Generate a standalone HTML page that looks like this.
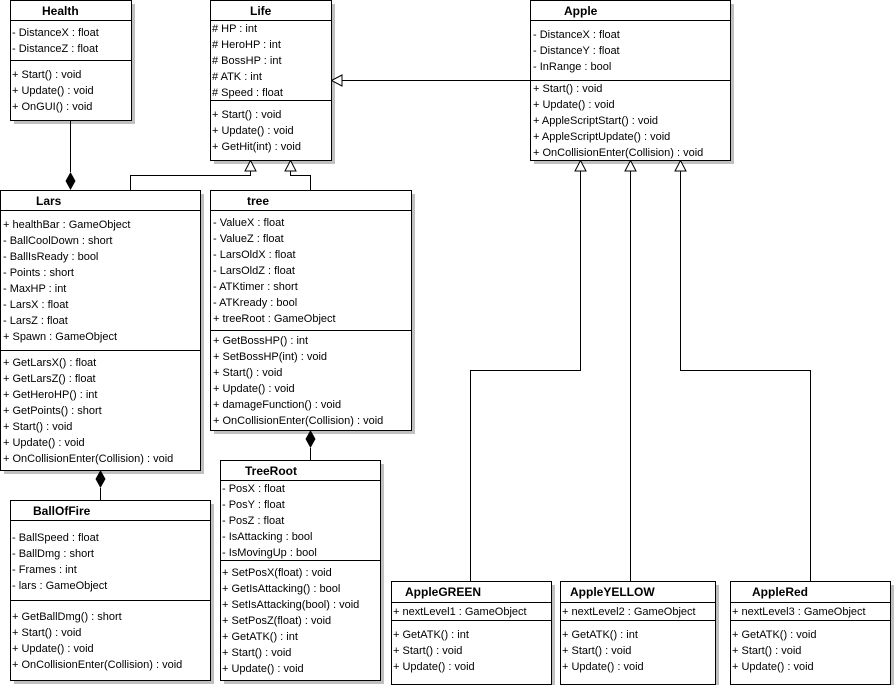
<!DOCTYPE html>
<html><head><meta charset="utf-8"><style>
html,body{margin:0;padding:0;background:#fff;}
svg{display:block;}
text{font-family:"Liberation Sans",Arial,sans-serif;font-size:11px;fill:#000;}
.t{font-weight:bold;font-size:12px;}
.b{fill:#fff;stroke:#000;stroke-width:1;}
.s{fill:#c0c0c0;}
.l{stroke:#000;stroke-width:1;fill:none;}
</style></head><body>
<svg width="895" height="685" viewBox="0 0 895 685" xmlns="http://www.w3.org/2000/svg" shape-rendering="crispEdges">
<!-- shadows -->
<rect class="s" x="14" y="4" width="121" height="120"/>
<rect class="s" x="214" y="4" width="121" height="160"/>
<rect class="s" x="534" y="4" width="200" height="160"/>
<rect class="s" x="4" y="194" width="200" height="280"/>
<rect class="s" x="214" y="194" width="201" height="240"/>
<rect class="s" x="14" y="504" width="200" height="180"/>
<rect class="s" x="224" y="464" width="160" height="220"/>
<rect class="s" x="395" y="585" width="160" height="104"/>
<rect class="s" x="564" y="585" width="155" height="104"/>
<rect class="s" x="734" y="585" width="160" height="104"/>

<!-- connectors -->
<g class="l">
<line x1="70.5" y1="120" x2="70.5" y2="172"/>
<polyline points="130.5,190 130.5,175.5 250.5,175.5 250.5,171"/>
<polyline points="310.5,190 310.5,175.5 290.5,175.5 290.5,171"/>
<line x1="530" y1="80.5" x2="342" y2="80.5"/>
<line x1="100.5" y1="488" x2="100.5" y2="500"/>
<line x1="310.5" y1="448" x2="310.5" y2="460"/>
<polyline points="470.5,581 470.5,370.5 580.5,370.5 580.5,171"/>
<line x1="630.5" y1="581" x2="630.5" y2="171"/>
<polyline points="810.5,581 810.5,370.5 680.5,370.5 680.5,171"/>
</g>
<g fill="#fff" stroke="#000" shape-rendering="auto">
<polygon points="250.5,160.5 245,171 256,171"/>
<polygon points="290.5,160.5 285,171 296,171"/>
<polygon points="580.5,160.5 575,171 586,171"/>
<polygon points="630.5,160.5 625,171 636,171"/>
<polygon points="680.5,160.5 675,171 686,171"/>
<polygon points="331.5,80.5 342,75 342,86"/>
</g>
<g fill="#000" shape-rendering="auto">
<polygon points="70.5,190 65.5,181 70.5,172 75.5,181"/>
<polygon points="100.5,470 95.5,479 100.5,488 105.5,479"/>
<polygon points="310.5,430 305.5,439 310.5,448 315.5,439"/>
</g>

<!-- Health -->
<rect class="b" x="10.5" y="0.5" width="121" height="120"/>
<line class="l" x1="10" y1="20.5" x2="131" y2="20.5"/><line class="l" x1="10" y1="60.5" x2="131" y2="60.5"/>
<text class="t" x="42" y="15">Health</text>
<text x="12" y="36">- DistanceX : float</text><text x="12" y="52">- DistanceZ : float</text>
<text x="12" y="78">+ Start() : void</text><text x="12" y="94">+ Update() : void</text><text x="12" y="110">+ OnGUI() : void</text>

<!-- Life -->
<rect class="b" x="210.5" y="0.5" width="121" height="160"/>
<line class="l" x1="210" y1="20.5" x2="331" y2="20.5"/><line class="l" x1="210" y1="100.5" x2="331" y2="100.5"/>
<text class="t" x="250" y="15">Life</text>
<text x="212" y="32"># HP : int</text><text x="212" y="48"># HeroHP : int</text><text x="212" y="64"># BossHP : int</text><text x="212" y="80"># ATK : int</text><text x="212" y="96"># Speed : float</text>
<text x="212" y="118">+ Start() : void</text><text x="212" y="134">+ Update() : void</text><text x="212" y="150">+ GetHit(int) : void</text>

<!-- Apple -->
<rect class="b" x="530.5" y="0.5" width="200" height="160"/>
<line class="l" x1="530" y1="20.5" x2="730" y2="20.5"/><line class="l" x1="530" y1="80.5" x2="730" y2="80.5"/>
<text class="t" x="564" y="15">Apple</text>
<text x="533" y="38">- DistanceX : float</text><text x="533" y="54">- DistanceY : float</text><text x="533" y="70">- InRange : bool</text>
<text x="533" y="92">+ Start() : void</text><text x="533" y="108">+ Update() : void</text><text x="533" y="124">+ AppleScriptStart() : void</text><text x="533" y="140">+ AppleScriptUpdate() : void</text><text x="533" y="156">+ OnCollisionEnter(Collision) : void</text>

<!-- Lars -->
<rect class="b" x="0.5" y="190.5" width="200" height="280"/>
<line class="l" x1="0" y1="210.5" x2="200" y2="210.5"/><line class="l" x1="0" y1="350.5" x2="200" y2="350.5"/>
<text class="t" x="36" y="205">Lars</text>
<text x="3" y="228">+ healthBar : GameObject</text><text x="3" y="244">- BallCoolDown : short</text><text x="3" y="260">- BallIsReady : bool</text><text x="3" y="276">- Points : short</text><text x="3" y="292">- MaxHP : int</text><text x="3" y="308">- LarsX : float</text><text x="3" y="324">- LarsZ : float</text><text x="3" y="340">+ Spawn : GameObject</text>
<text x="3" y="366">+ GetLarsX() : float</text><text x="3" y="382">+ GetLarsZ() : float</text><text x="3" y="398">+ GetHeroHP() : int</text><text x="3" y="414">+ GetPoints() : short</text><text x="3" y="430">+ Start() : void</text><text x="3" y="446">+ Update() : void</text><text x="3" y="462">+ OnCollisionEnter(Collision) : void</text>

<!-- tree -->
<rect class="b" x="210.5" y="190.5" width="201" height="240"/>
<line class="l" x1="210" y1="210.5" x2="411" y2="210.5"/><line class="l" x1="210" y1="330.5" x2="411" y2="330.5"/>
<text class="t" x="247" y="205">tree</text>
<text x="213" y="226">- ValueX : float</text><text x="213" y="242">- ValueZ : float</text><text x="213" y="258">- LarsOldX : float</text><text x="213" y="274">- LarsOldZ : float</text><text x="213" y="290">- ATKtimer : short</text><text x="213" y="306">- ATKready : bool</text><text x="213" y="322">+ treeRoot : GameObject</text>
<text x="213" y="344">+ GetBossHP() : int</text><text x="213" y="360">+ SetBossHP(int) : void</text><text x="213" y="376">+ Start() : void</text><text x="213" y="392">+ Update() : void</text><text x="213" y="408">+ damageFunction() : void</text><text x="213" y="424">+ OnCollisionEnter(Collision) : void</text>

<!-- BallOfFire -->
<rect class="b" x="10.5" y="500.5" width="200" height="180"/>
<line class="l" x1="10" y1="520.5" x2="210" y2="520.5"/><line class="l" x1="10" y1="600.5" x2="210" y2="600.5"/>
<text class="t" x="33" y="515">BallOfFire</text>
<text x="12" y="541">- BallSpeed : float</text><text x="12" y="557">- BallDmg : short</text><text x="12" y="573">- Frames : int</text><text x="12" y="589">- lars : GameObject</text>
<text x="12" y="620">+ GetBallDmg() : short</text><text x="12" y="636">+ Start() : void</text><text x="12" y="652">+ Update() : void</text><text x="12" y="668">+ OnCollisionEnter(Collision) : void</text>

<!-- TreeRoot -->
<rect class="b" x="220.5" y="460.5" width="160" height="220"/>
<line class="l" x1="220" y1="480.5" x2="380" y2="480.5"/><line class="l" x1="220" y1="560.5" x2="380" y2="560.5"/>
<text class="t" x="245" y="475">TreeRoot</text>
<text x="222" y="492">- PosX : float</text><text x="222" y="508">- PosY : float</text><text x="222" y="524">- PosZ : float</text><text x="222" y="540">- IsAttacking : bool</text><text x="222" y="556">- IsMovingUp : bool</text>
<text x="222" y="576">+ SetPosX(float) : void</text><text x="222" y="592">+ GetIsAttacking() : bool</text><text x="222" y="608">+ SetIsAttacking(bool) : void</text><text x="222" y="624">+ SetPosZ(float) : void</text><text x="222" y="640">+ GetATK() : int</text><text x="222" y="656">+ Start() : void</text><text x="222" y="672">+ Update() : void</text>

<!-- AppleGREEN -->
<rect class="b" x="391.5" y="581.5" width="160" height="103"/>
<line class="l" x1="391" y1="602.5" x2="551" y2="602.5"/><line class="l" x1="391" y1="620.5" x2="551" y2="620.5"/>
<text class="t" x="405" y="596">AppleGREEN</text>
<text x="393" y="615">+ nextLevel1 : GameObject</text>
<text x="393" y="638">+ GetATK() : int</text><text x="393" y="654">+ Start() : void</text><text x="393" y="670">+ Update() : void</text>

<!-- AppleYELLOW -->
<rect class="b" x="560.5" y="581.5" width="155" height="103"/>
<line class="l" x1="560" y1="602.5" x2="715" y2="602.5"/><line class="l" x1="560" y1="620.5" x2="715" y2="620.5"/>
<text class="t" x="570" y="596">AppleYELLOW</text>
<text x="562" y="615">+ nextLevel2 : GameObject</text>
<text x="562" y="638">+ GetATK() : int</text><text x="562" y="654">+ Start() : void</text><text x="562" y="670">+ Update() : void</text>

<!-- AppleRed -->
<rect class="b" x="730.5" y="581.5" width="160" height="103"/>
<line class="l" x1="730" y1="602.5" x2="890" y2="602.5"/><line class="l" x1="730" y1="620.5" x2="890" y2="620.5"/>
<text class="t" x="752" y="596">AppleRed</text>
<text x="732" y="615">+ nextLevel3 : GameObject</text>
<text x="732" y="638">+ GetATK() : void</text><text x="732" y="654">+ Start() : void</text><text x="732" y="670">+ Update() : void</text>
</svg>
</body></html>
